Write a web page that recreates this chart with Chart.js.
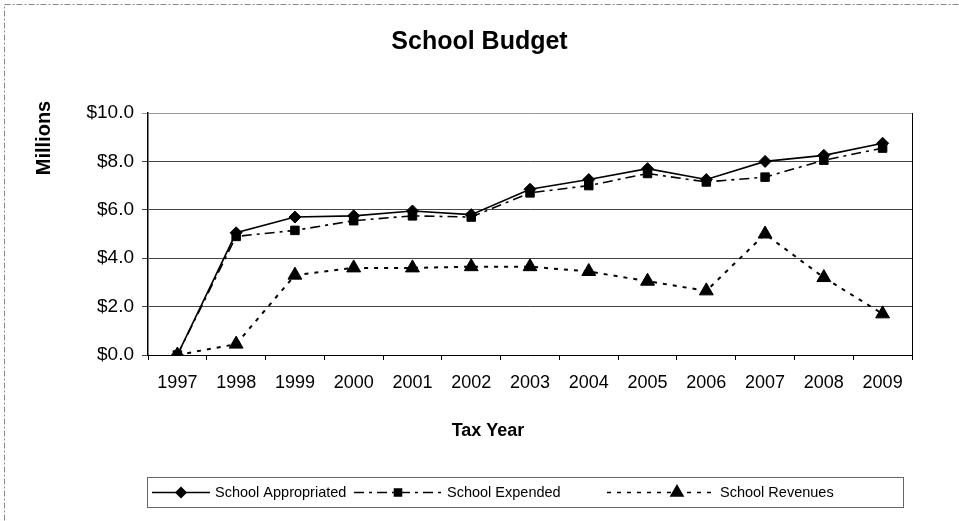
<!DOCTYPE html>
<html>
<head>
<meta charset="utf-8">
<script src="https://cdn.jsdelivr.net/npm/chart.js@4"></script>
<style>
  html, body { margin: 0; padding: 0; background: #fff; }
  #wrap { width: 959px; height: 521px; }
</style>
</head>
<body>
<div id="wrap"><canvas id="myChart" width="959" height="521"></canvas></div>
<script>
const years = ['1997', '1998', '1999', '2000', '2001', '2002', '2003', '2004', '2005', '2006', '2007', '2008', '2009'];
const appropriated = [0, 5.05, 5.7, 5.75, 5.95, 5.8, 6.85, 7.25, 7.7, 7.25, 8.0, 8.25, 8.75];
const expended = [0, 4.9, 5.15, 5.55, 5.75, 5.7, 6.7, 7.0, 7.5, 7.15, 7.35, 8.05, 8.55];
const revenues = [0, 0.45, 3.3, 3.6, 3.6, 3.65, 3.65, 3.45, 3.05, 2.65, 5.0, 3.2, 1.7];
const yTicks = [0, 2, 4, 6, 8, 10];

const FONT = "'Liberation Sans', Arial, sans-serif";

// frame, plot border, axis titles and legend drawn by hand
const extras = {
    id: 'extras',
    beforeDraw(chart) {
        const c = chart.ctx;
        c.save();
        c.fillStyle = '#fff';
        c.fillRect(0, 0, chart.width, chart.height);
        c.strokeStyle = '#888';
        c.lineWidth = 1;
        c.setLineDash([6, 2, 2, 2]);
        c.strokeRect(4.5, 4.5, chart.width - 2, chart.height + 10);
        c.restore();
    },
    afterDraw(chart) {
        const c = chart.ctx;
        const a = chart.chartArea;
        c.save();
        c.strokeStyle = '#000';
        c.lineWidth = 1;
        c.beginPath();
        c.moveTo(a.right + 0.5, a.top);
        c.lineTo(a.right + 0.5, a.bottom);
        c.stroke();

        c.fillStyle = '#000';
        c.font = 'bold 18px ' + FONT;
        c.textAlign = 'center';
        c.textBaseline = 'middle';
        c.fillText('Tax Year', 488, 431);

        // y axis title
        c.translate(44, 138);
        c.rotate(-Math.PI / 2);
        c.font = 'bold 20px ' + FONT;
        c.fillText('Millions', 0, 0);
        c.restore();

        // legend
        const top = 477, h = 30, left = a.left - 1, right = 903;
        c.save();
        c.strokeStyle = '#666';
        c.lineWidth = 1;
        c.strokeRect(left + 0.5, top + 0.5, right - left, h);
        const midY = top + h / 2 + 0.5;
        const items = [[152, 58, 0], [354, 88, 0], [607, 108, 16]];
        chart.data.datasets.forEach((ds, i) => {
            const [x0, w, shift] = items[i];
            c.strokeStyle = ds.borderColor;
            c.lineWidth = 1.5;
            c.setLineDash(ds.borderDash || []);
            c.beginPath();
            c.moveTo(x0, midY);
            c.lineTo(x0 + w, midY);
            c.stroke();
            c.setLineDash([]);
            Chart.helpers.drawPoint(c, {
                pointStyle: ds.pointStyle,
                radius: ds.pointRadius - 1,
                rotation: 0,
                borderWidth: 1
            }, x0 + w / 2 + shift, midY);
            c.fillStyle = '#000';
            c.font = '14.5px ' + FONT;
            c.textAlign = 'left';
            c.textBaseline = 'middle';
            c.fillText(ds.label, x0 + w + 5, midY);
        });
        c.restore();
    }
};

const pointCommon = {
    borderColor: '#000',
    backgroundColor: '#000',
    pointBackgroundColor: '#000',
    pointBorderColor: '#000',
    pointBorderWidth: 1,
    borderWidth: 1.6,
    tension: 0,
    fill: false
};

const ctx = document.getElementById('myChart').getContext('2d');

const myChart = new Chart(ctx, {
    type: 'line',
    data: {
        labels: years,
        datasets: [
            Object.assign({}, pointCommon, {
                label: 'School Appropriated',
                data: appropriated,
                pointStyle: 'rectRot',
                pointRadius: 6
            }),
            Object.assign({}, pointCommon, {
                label: 'School Expended',
                data: expended,
                borderDash: [10, 5, 3, 5],
                pointStyle: 'rect',
                pointRadius: 6
            }),
            Object.assign({}, pointCommon, {
                label: 'School Revenues',
                data: revenues,
                borderDash: [4, 6],
                borderWidth: 2,
                pointStyle: 'triangle',
                pointRadius: 8
            })
        ]
    },
    options: {
        responsive: false,
        animation: false,
        layout: {
            padding: { left: 47, right: 47, top: 0, bottom: 70 }
        },
        plugins: {
            legend: { display: false },
            tooltip: { enabled: false },
            title: {
                display: true,
                text: 'School Budget',
                color: '#000',
                font: { family: FONT, size: 25, weight: 'bold' },
                padding: { top: 27, bottom: 56 }
            }
        },
        scales: {
            x: {
                offset: true,
                afterFit(scale) { scale.height = 96; },
                grid: {
                    offset: true,
                    drawOnChartArea: false,
                    drawTicks: true,
                    tickLength: 5,
                    color: '#000'
                },
                border: { color: '#000', width: 1 },
                ticks: {
                    color: '#000',
                    font: { family: FONT, size: 18 },
                    padding: 12,
                    maxRotation: 0,
                    autoSkip: false
                }
            },
            y: {
                min: yTicks[0],
                max: yTicks[yTicks.length - 1],
                afterFit(scale) { scale.width = 101; },
                afterBuildTicks(scale) {
                    scale.ticks = yTicks.map(v => ({ value: v }));
                },
                grid: {
                    color: ctx => ctx.tick.value === 10 ? '#999' : '#444',
                    lineWidth: 1,
                    tickLength: 6
                },
                border: { color: '#000', width: 1.5 },
                ticks: {
                    color: '#000',
                    font: { family: FONT, size: 19 },
                    padding: 8,
                    callback: v => '$' + v.toFixed(1)
                }
            }
        }
    },
    plugins: [extras]
});
</script>
</body>
</html>
